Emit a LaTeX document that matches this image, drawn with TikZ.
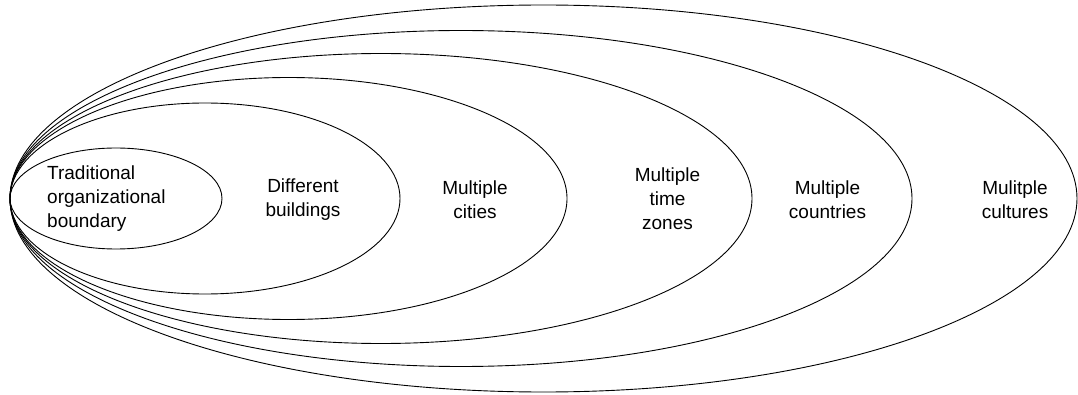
\documentclass[tikz,border=0pt]{standalone}
\usepackage{fontspec}
\setmainfont{Liberation Sans}
\begin{document}
\begin{tikzpicture}[x=1pt,y=-1pt,
  ring/.style={draw=black,line width=0.9pt},
  lbl/.style={inner sep=0pt,align=center,font=\fontsize{19}{24}\selectfont}]
\useasboundingbox (0,0) rectangle (1078,395);
\draw[ring] (543.5,198.5) ellipse [x radius=533.5pt,y radius=193.5pt];
\draw[ring] (461,198.5) ellipse [x radius=451pt,y radius=168pt];
\draw[ring] (381,198.5) ellipse [x radius=371pt,y radius=145pt];
\draw[ring] (288.5,198.5) ellipse [x radius=278.5pt,y radius=121pt];
\draw[ring] (205,198.5) ellipse [x radius=195pt,y radius=95.5pt];
\draw[ring] (116,198.5) ellipse [x radius=106pt,y radius=50.5pt];
\node[lbl,align=left,anchor=west] (t1) at (47,199) {Traditional\\organizational\\boundary};
\node[lbl] (t2) at (303,200) {Different\\buildings};
\node[lbl] (t3) at (475,200) {Multiple\\cities};
\node[lbl] (t4) at (667.5,199) {Multiple\\time\\zones};
\node[lbl] (t5) at (827.5,200) {Multiple\\countries};
\node[lbl] (t6) at (1015,200) {Mulitple\\cultures};
\end{tikzpicture}
\end{document}
